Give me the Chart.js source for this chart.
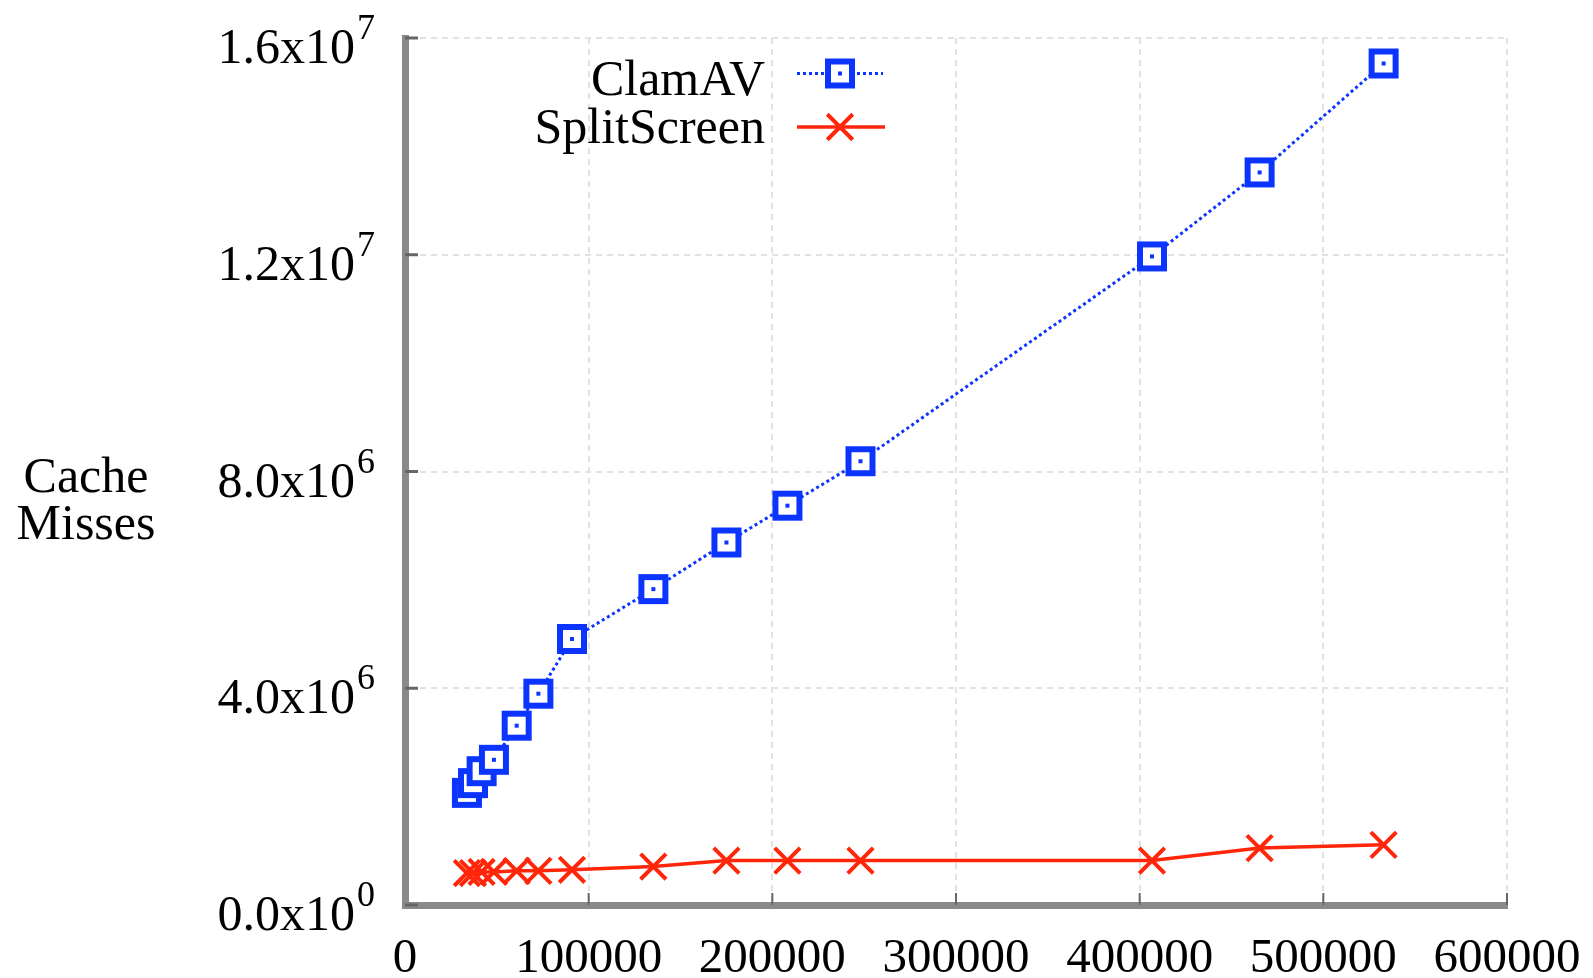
<!DOCTYPE html>
<html><head><meta charset="utf-8">
<script src="https://cdn.jsdelivr.net/npm/chart.js@4/dist/chart.umd.min.js"></script>
<style>html,body{margin:0;padding:0;background:#fff;overflow:hidden}
#wrap{width:1593px;height:978px;position:relative}</style>
</head><body><div id="wrap"><canvas id="c" width="1593" height="978"></canvas></div>
<script>
// ---- data ----
const signatures = [33700, 37000, 41700, 48400, 60800, 72600, 90900, 135200, 175000, 208200, 248000, 406700, 465300, 532800];
const clamavMisses = [2.07e6, 2.25e6, 2.47e6, 2.68e6, 3.31e6, 3.90e6, 4.91e6, 5.83e6, 6.69e6, 7.37e6, 8.19e6, 11.97e6, 13.52e6, 15.53e6];
const splitscreenMisses = [0.59e6, 0.59e6, 0.61e6, 0.61e6, 0.63e6, 0.63e6, 0.65e6, 0.71e6, 0.82e6, 0.82e6, 0.82e6, 0.82e6, 1.05e6, 1.11e6];
const xTicks = [0, 100000, 200000, 300000, 400000, 500000, 600000];
const yTickValues = [0, 4e6, 8e6, 1.2e7, 1.6e7];
const yTickMantissa = ['0.0', '4.0', '8.0', '1.2', '1.6'];
const yTickExponent = ['0', '6', '6', '7', '7'];
const yTitleLines = ['Cache', 'Misses'];
const seriesNames = ['ClamAV', 'SplitScreen'];

const BLUE = 'rgb(12,52,255)';
const RED = 'rgb(255,38,10)';
const SERIF = '"Liberation Serif", "DejaVu Serif", serif';

function makeSquare() {
  const c = document.createElement('canvas');
  c.width = 32; c.height = 32;
  const g = c.getContext('2d');
  g.fillStyle = '#fff'; g.fillRect(4, 4, 24, 24);
  g.strokeStyle = BLUE; g.lineWidth = 6; g.strokeRect(4, 4, 24, 24);
  g.fillStyle = BLUE; g.fillRect(14, 14, 4, 4);
  return c;
}
const squareImg = makeSquare();

const decor = {
  id: 'decor',
  beforeDatasetsDraw(chart) {
    const {ctx, chartArea: a, scales: {x, y}} = chart;
    ctx.save();
    ctx.strokeStyle = '#666';
    ctx.lineWidth = 3;
    yTickValues.forEach(v => {
      const py = y.getPixelForValue(v);
      ctx.beginPath(); ctx.moveTo(a.left, py); ctx.lineTo(a.left + 13, py); ctx.stroke();
    });
    ctx.lineWidth = 2;
    xTicks.forEach(v => {
      if (v === 0) return;
      const px = x.getPixelForValue(v);
      ctx.beginPath(); ctx.moveTo(px, a.bottom); ctx.lineTo(px, a.bottom - 12); ctx.stroke();
    });
    ctx.restore();
  },
  afterDraw(chart) {
    const {ctx, chartArea: a, scales: {y}} = chart;
    ctx.save();
    ctx.fillStyle = '#000';
    yTickValues.forEach((v, i) => {
      const py = y.getPixelForValue(v);
      ctx.font = '50px ' + SERIF;
      ctx.textAlign = 'right'; ctx.textBaseline = 'alphabetic';
      ctx.fillText(yTickMantissa[i] + 'x10', a.left - 50, py + 25);
      ctx.font = '36px ' + SERIF;
      ctx.textAlign = 'left';
      ctx.fillText(yTickExponent[i], a.left - 48, py + 1);
    });
    ctx.font = '50px ' + SERIF;
    ctx.textAlign = 'center';
    ctx.fillText(yTitleLines[0], 86, 492);
    ctx.fillText(yTitleLines[1], 86, 539);
    ctx.textAlign = 'right';
    ctx.fillText(seriesNames[0], 765, 95);
    ctx.fillText(seriesNames[1], 765, 143);
    ctx.strokeStyle = BLUE; ctx.lineWidth = 3; ctx.setLineDash([3, 3]);
    ctx.beginPath(); ctx.moveTo(797, 73.5); ctx.lineTo(883, 73.5); ctx.stroke();
    ctx.setLineDash([]);
    ctx.drawImage(squareImg, 840 - 16, 73.5 - 16);
    ctx.strokeStyle = RED; ctx.lineWidth = 3.5;
    ctx.beginPath(); ctx.moveTo(797, 127); ctx.lineTo(885, 127); ctx.stroke();
    const r = 18 * Math.SQRT1_2;
    ctx.lineWidth = 4;
    ctx.beginPath();
    ctx.moveTo(840 - r, 127 - r); ctx.lineTo(840 + r, 127 + r);
    ctx.moveTo(840 - r, 127 + r); ctx.lineTo(840 + r, 127 - r);
    ctx.stroke();
    ctx.restore();
  }
};

const gridOpts = {color: '#e2e2e2', lineWidth: 2, drawTicks: false};
const borderOpts = {display: true, color: '#8a8a8a', width: 7, dash: [6, 5]};

new Chart(document.getElementById('c'), {
  type: 'scatter',
  data: {
    datasets: [
      {
        label: seriesNames[0],
        data: signatures.map((s, i) => ({x: s, y: clamavMisses[i]})),
        showLine: true,
        borderColor: BLUE,
        borderWidth: 3,
        borderDash: [3, 3],
        pointStyle: squareImg,
        pointRadius: 16,
        backgroundColor: BLUE
      },
      {
        label: seriesNames[1],
        data: signatures.map((s, i) => ({x: s, y: splitscreenMisses[i]})),
        showLine: true,
        borderColor: RED,
        borderWidth: 3.5,
        pointStyle: 'crossRot',
        pointRadius: 18,
        pointBorderWidth: 4,
        pointBorderColor: RED,
        backgroundColor: RED
      }
    ]
  },
  options: {
    responsive: false,
    animation: false,
    devicePixelRatio: 1,
    layout: {padding: {left: 0, top: 38, right: 86, bottom: 0}},
    plugins: {legend: {display: false}, tooltip: {enabled: false}},
    scales: {
      x: {
        type: 'linear', min: 0, max: 600000,
        afterBuildTicks: s => { s.ticks = xTicks.map(v => ({value: v})); },
        grid: gridOpts,
        border: borderOpts,
        ticks: {font: {family: SERIF, size: 49}, color: '#000', padding: 25, maxRotation: 0, autoSkip: false,
                callback: v => String(v)},
        afterFit: s => { s.height = 73; s.paddingLeft = 0; s.paddingRight = 0; }
      },
      y: {
        type: 'linear', min: 0, max: 1.6e7,
        afterBuildTicks: s => { s.ticks = yTickValues.map(v => ({value: v})); },
        grid: gridOpts,
        border: borderOpts,
        ticks: {display: false},
        afterFit: s => { s.width = 405; s.paddingTop = 0; s.paddingBottom = 0; }
      }
    }
  },
  plugins: [decor]
});
</script>
</body></html>
